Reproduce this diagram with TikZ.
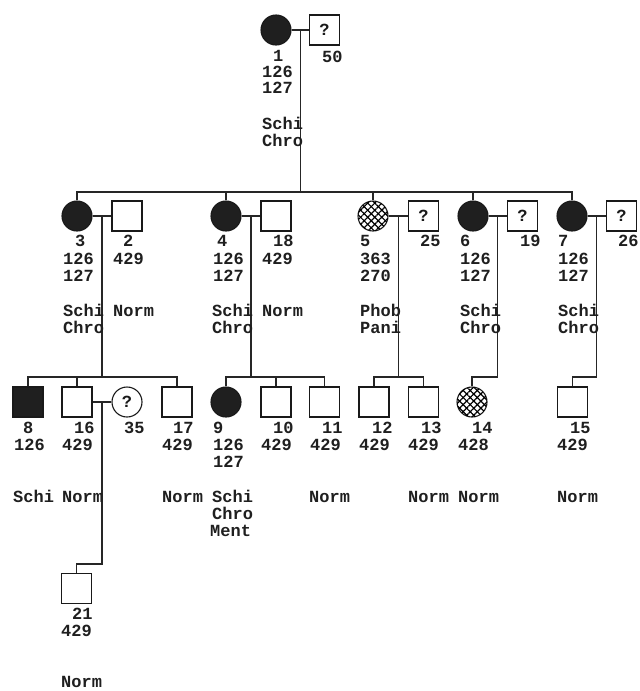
\documentclass[tikz,border=0pt]{standalone}
\usepackage{fontspec}
\setmonofont{Liberation Mono}
\usetikzlibrary{patterns.meta,calc}
\newcommand\lblfont{\ttfamily\bfseries\fontsize{17}{17}\selectfont}
\begin{document}
\begin{tikzpicture}[x=1pt,y=-1pt,
  sym/.style={draw=black!90, line width=1.1pt, inner sep=0pt, font=\lblfont, text=black!90},
  fem/.style={sym, circle, minimum size=30pt},
  mal/.style={sym, rectangle, minimum width=30pt, minimum height=30pt},
  aff/.style={fill=black!88},
  hatch/.style={postaction={pattern={Lines[angle=45,distance=5pt,line width=1.2pt]}},
                postaction={pattern={Lines[angle=-45,distance=5pt,line width=1.2pt]}}},
  lbl/.style={anchor=base west, inner sep=0pt, font=\lblfont, text=black!88},
  ln/.style={line width=1.1pt, draw=black!85}]
\useasboundingbox (0,0) rectangle (640,691);
% ---------- generation 1
\node[fem,aff] (n1) at (276,30) {};
\node[mal] (n50) at (324.5,30) {?};
% ---------- generation 2
\node[fem,aff] (n3) at (77,216) {};
\node[mal] (n2) at (127,216) {};
\node[fem,aff] (n4) at (226,216) {};
\node[mal] (n18) at (276,216) {};
\node[fem,hatch] (n5) at (373,216) {};
\node[mal] (n25) at (423.5,216) {?};
\node[fem,aff] (n6) at (473,216) {};
\node[mal] (n19) at (522.5,216) {?};
\node[fem,aff] (n7) at (572,216) {};
\node[mal] (n26) at (621.5,216) {?};
% ---------- generation 3
\node[mal,aff] (n8) at (28,402) {};
\node[mal] (n16) at (77,402) {};
\node[fem] (n35) at (127,402) {?};
\node[mal] (n17) at (177,402) {};
\node[fem,aff] (n9) at (226,402) {};
\node[mal] (n10) at (276,402) {};
\node[mal] (n11) at (324.5,402) {};
\node[mal] (n12) at (374,402) {};
\node[mal] (n13) at (423.5,402) {};
\node[fem,hatch] (n14) at (472,402) {};
\node[mal] (n15) at (572.5,402) {};
% ---------- generation 4
\node[mal] (n21) at (76.5,588.5) {};
% ---------- levels
\coordinate (r1) at (0,192);
\coordinate (r2) at (0,377);
\coordinate (r3) at (0,564);
% ---------- connectors
\coordinate (m1) at ($(n1.east)!.5!(n50.west)$);
\draw[ln] (n1.east) -- (n50.west);
\draw[ln] (m1) -- (m1 |- r1);
\draw[ln] (n3.north) |- (m1 |- r1) -| (n7.north);
\foreach \c in {n4,n5,n6} \draw[ln] (\c.north) -- (\c.north |- r1);
\foreach \a/\b/\m in {n3/n2/m3, n4/n18/m4, n5/n25/m5, n6/n19/m6, n7/n26/m7, n16/n35/m16} {
  \draw[ln] (\a.east) -- (\b.west);
  \coordinate (\m) at ($(\a.east)!.5!(\b.west)$);
}
\draw[ln] (m3) -- (m3 |- r2);
\draw[ln] (n8.north) |- (m3 |- r2) -| (n17.north);
\draw[ln] (n16.north) -- (n16.north |- r2);
\draw[ln] (m4) -- (m4 |- r2);
\draw[ln] (n9.north) |- (m4 |- r2) -| (n11.north);
\draw[ln] (n10.north) -- (n10.north |- r2);
\draw[ln] (m5) -- (m5 |- r2);
\draw[ln] (n12.north) |- (m5 |- r2) -| (n13.north);
\draw[ln] (m6) |- (n14.north |- r2) -- (n14.north);
\draw[ln] (m7) |- (n15.north |- r2) -- (n15.north);
\draw[ln] (m16) |- (n21.north |- r3) -- (n21.north);
% ---------- labels generation 1
\node[lbl] (t1a) at (273,61) {1};
\node[lbl] (t1b) at (262,77) {126};
\node[lbl] (t1c) at (262,93) {127};
\node[lbl] (t1d) at (262,129) {Schi};
\node[lbl] (t1e) at (262,146) {Chro};
\node[lbl] (t50) at (322,62) {50};
% ---------- labels generation 2
\node[lbl] (t3a) at (75,246) {3};
\node[lbl] (t3b) at (63,264) {126};
\node[lbl] (t3c) at (63,281) {127};
\node[lbl] (t3d) at (63,316) {Schi};
\node[lbl] (t3e) at (63,333) {Chro};
\node[lbl] (t2a) at (123,246) {2};
\node[lbl] (t2b) at (113,264) {429};
\node[lbl] (t2d) at (113,316) {Norm};
\node[lbl] (t4a) at (217,246) {4};
\node[lbl] (t4b) at (213,264) {126};
\node[lbl] (t4c) at (213,281) {127};
\node[lbl] (t4d) at (212,316) {Schi};
\node[lbl] (t4e) at (212,333) {Chro};
\node[lbl] (t18a) at (273,246) {18};
\node[lbl] (t18b) at (262,264) {429};
\node[lbl] (t18d) at (262,316) {Norm};
\node[lbl] (t5a) at (360,246) {5};
\node[lbl] (t5b) at (360,264) {363};
\node[lbl] (t5c) at (360,281) {270};
\node[lbl] (t5d) at (360,316) {Phob};
\node[lbl] (t5e) at (360,333) {Pani};
\node[lbl] (t25) at (420,246) {25};
\node[lbl] (t6a) at (460,246) {6};
\node[lbl] (t6b) at (460,264) {126};
\node[lbl] (t6c) at (460,281) {127};
\node[lbl] (t6d) at (460,316) {Schi};
\node[lbl] (t6e) at (460,333) {Chro};
\node[lbl] (t19) at (520,246) {19};
\node[lbl] (t7a) at (558,246) {7};
\node[lbl] (t7b) at (558,264) {126};
\node[lbl] (t7c) at (558,281) {127};
\node[lbl] (t7d) at (558,316) {Schi};
\node[lbl] (t7e) at (558,333) {Chro};
\node[lbl] (t26) at (618,246) {26};
% ---------- labels generation 3
\node[lbl] (t8a) at (23,433) {8};
\node[lbl] (t8b) at (14,450) {126};
\node[lbl] (t8d) at (13,502) {Schi};
\node[lbl] (t16a) at (74,433) {16};
\node[lbl] (t16b) at (62,450) {429};
\node[lbl] (t16d) at (62,502) {Norm};
\node[lbl] (t35) at (124,433) {35};
\node[lbl] (t17a) at (173,433) {17};
\node[lbl] (t17b) at (162,450) {429};
\node[lbl] (t17d) at (162,502) {Norm};
\node[lbl] (t9a) at (213,433) {9};
\node[lbl] (t9b) at (213,450) {126};
\node[lbl] (t9c) at (213,467) {127};
\node[lbl] (t9d) at (212,502) {Schi};
\node[lbl] (t9e) at (212,519) {Chro};
\node[lbl] (t9f) at (210,536) {Ment};
\node[lbl] (t10a) at (273,433) {10};
\node[lbl] (t10b) at (261,450) {429};
\node[lbl] (t11a) at (322,433) {11};
\node[lbl] (t11b) at (310,450) {429};
\node[lbl] (t11d) at (309,502) {Norm};
\node[lbl] (t12a) at (372,433) {12};
\node[lbl] (t12b) at (359,450) {429};
\node[lbl] (t13a) at (421,433) {13};
\node[lbl] (t13b) at (408,450) {429};
\node[lbl] (t13d) at (408,502) {Norm};
\node[lbl] (t14a) at (472,433) {14};
\node[lbl] (t14b) at (458,450) {428};
\node[lbl] (t14d) at (458,502) {Norm};
\node[lbl] (t15a) at (570,433) {15};
\node[lbl] (t15b) at (557,450) {429};
\node[lbl] (t15d) at (557,502) {Norm};
% ---------- labels generation 4
\node[lbl] (t21a) at (72,619) {21};
\node[lbl] (t21b) at (61,636) {429};
\node[lbl] (t21d) at (61,687) {Norm};
\end{tikzpicture}
\end{document}
